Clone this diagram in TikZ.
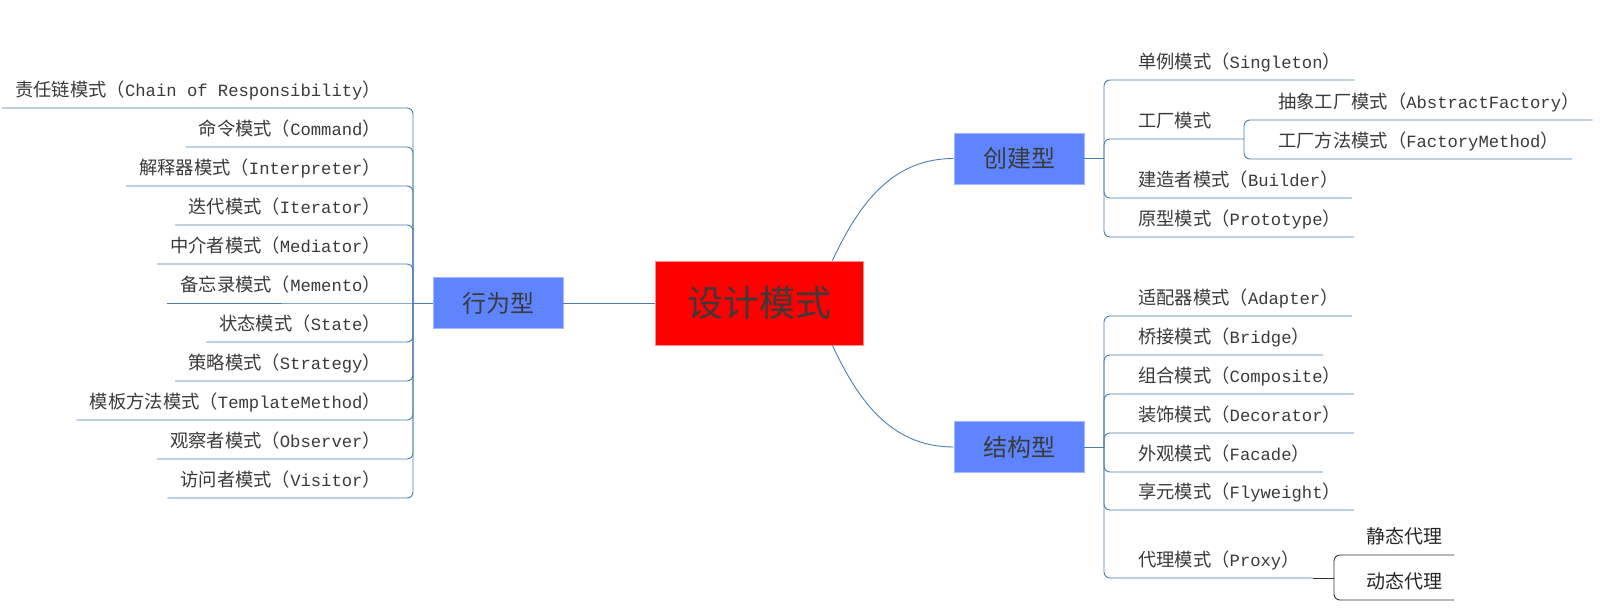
\documentclass[tikz,border=0pt]{standalone}
\usepackage{fontspec}
\setmainfont{Noto Sans CJK SC}
\setmonofont{Liberation Mono}
\usepackage{tikz}
\usetikzlibrary{calc}
\usepackage{xcolor}
\definecolor{linkblue}{HTML}{4A7EB0}
\definecolor{boxblue}{HTML}{5E85FF}
\definecolor{boxedge}{HTML}{A3B7FF}
\definecolor{rootred}{HTML}{FF0000}
\definecolor{rootedge}{HTML}{FF8A8A}
\definecolor{inkgray}{HTML}{3A3A3A}
\definecolor{darkline}{HTML}{333333}
% pattern label: chinese name + latin name in brackets
\newcommand{\pat}[2]{#1（{\fontsize{17.2}{20}\selectfont\ttfamily #2}）}

\begin{document}
\begin{tikzpicture}[x=1pt, y=-1pt,
  root/.style={fill=rootred, draw=rootedge, line width=0.8pt, minimum width=208pt, minimum height=84pt, text=inkgray, font=\fontsize{36}{40}\selectfont},
  branch/.style={fill=boxblue, draw=boxedge, line width=0.8pt, minimum width=130pt, minimum height=51pt, text=inkgray, font=\fontsize{24}{28}\selectfont},
  leaf/.style={inner ysep=0pt, inner xsep=13pt, minimum height=34pt, text height=14pt, text depth=2pt, text=inkgray, font=\fontsize{18.3}{22}\selectfont},
  lleaf/.style={leaf, anchor=south east},
  rleaf/.style={leaf, anchor=south west},
  subleaf/.style={leaf, inner xsep=12pt, anchor=south west, text=black!85, font=\fontsize{19}{22}\selectfont},
  link/.style={draw=linkblue, line width=0.9pt},
  fork/.style={link, rounded corners=6pt},
  darkfork/.style={draw=darkline, line width=0.9pt, rounded corners=6pt}]
  \useasboundingbox (0,0) rectangle (1605,609);

  % centre and the three branches
  \node[root] (rc) at (759,303) {设计模式};
  \node[branch] (bh) at (498,303) {行为型};
  \node[branch] (cj) at (1019,158.5) {创建型};
  \node[branch] (jg) at (1019,447) {结构型};

  \draw[link] (rc.west) -- (bh.east);
  \draw[link] (rc.30) to[out=65, in=180] (cj.west);
  \draw[link] (rc.-30) to[out=-65, in=180] (jg.west);

  % Behavioural patterns
  \coordinate (bhj) at (413,303);
  \draw[link] (bh.west) -- (bhj);
  \node[lleaf] (b1) at (394,108) {\pat{责任链模式}{Chain of Responsibility}};
  \node[lleaf] (b2) at (394,147) {\pat{命令模式}{Command}};
  \node[lleaf] (b3) at (394,186) {\pat{解释器模式}{Interpreter}};
  \node[lleaf] (b4) at (394,225) {\pat{迭代模式}{Iterator}};
  \node[lleaf] (b5) at (394,264) {\pat{中介者模式}{Mediator}};
  \node[lleaf] (b6) at (394,303) {\pat{备忘录模式}{Memento}};
  \node[lleaf] (b7) at (394,342) {\pat{状态模式}{State}};
  \node[lleaf] (b8) at (394,381) {\pat{策略模式}{Strategy}};
  \node[lleaf] (b9) at (394,420) {\pat{模板方法模式}{TemplateMethod}};
  \node[lleaf] (b10) at (394,459) {\pat{观察者模式}{Observer}};
  \node[lleaf] (b11) at (394,498) {\pat{访问者模式}{Visitor}};

  \draw[fork] (bhj) |- (b1.south east) -- (b1.south west);
  \draw[fork] (bhj) |- (b2.south east) -- (b2.south west);
  \draw[fork] (bhj) |- (b3.south east) -- (b3.south west);
  \draw[fork] (bhj) |- (b4.south east) -- (b4.south west);
  \draw[fork] (bhj) |- (b5.south east) -- (b5.south west);
  \draw[link] (bhj) -- (b6.south east) -- (b6.south west);
  \draw[fork] (bhj) |- (b7.south east) -- (b7.south west);
  \draw[fork] (bhj) |- (b8.south east) -- (b8.south west);
  \draw[fork] (bhj) |- (b9.south east) -- (b9.south west);
  \draw[fork] (bhj) |- (b10.south east) -- (b10.south west);
  \draw[fork] (bhj) |- (b11.south east) -- (b11.south west);

  % Creational patterns
  \coordinate (cjj) at (1104,158.5);
  \coordinate (fj) at (1244,139);
  \draw[link] (cj.east) -- (cjj);
  \node[rleaf] (c1) at (1125,80) {\pat{单例模式}{Singleton}};
  \node[rleaf] (c2) at (1125,139) {工厂模式};
  \node[rleaf] (c3) at (1125,198) {\pat{建造者模式}{Builder}};
  \node[rleaf] (c4) at (1125,237) {\pat{原型模式}{Prototype}};
  \node[rleaf] (f1) at (1265,120) {\pat{抽象工厂模式}{AbstractFactory}};
  \node[rleaf] (f2) at (1265,159) {\pat{工厂方法模式}{FactoryMethod}};

  \draw[fork] (cjj) |- (c1.south west) -- (c1.south east);
  \draw[fork] (cjj) |- (c2.south west) -- (fj);
  \draw[fork] (cjj) |- (c3.south west) -- (c3.south east);
  \draw[fork] (cjj) |- (c4.south west) -- (c4.south east);
  \draw[fork] (fj) |- (f1.south west) -- (f1.south east);
  \draw[fork] (fj) |- (f2.south west) -- (f2.south east);

  % Structural patterns
  \coordinate (jgj) at (1104,447);
  \coordinate (pj) at (1334,578);
  \draw[link] (jg.east) -- (jgj);
  \node[rleaf] (s1) at (1125,316) {\pat{适配器模式}{Adapter}};
  \node[rleaf] (s2) at (1125,355) {\pat{桥接模式}{Bridge}};
  \node[rleaf] (s3) at (1125,394) {\pat{组合模式}{Composite}};
  \node[rleaf] (s4) at (1125,433) {\pat{装饰模式}{Decorator}};
  \node[rleaf] (s5) at (1125,472) {\pat{外观模式}{Facade}};
  \node[rleaf] (s6) at (1125,510) {\pat{享元模式}{Flyweight}};
  \node[rleaf] (s7) at (1125,578) {\pat{代理模式}{Proxy}};
  \node[subleaf] (p1) at (1354,555) {静态代理};
  \node[subleaf] (p2) at (1354,600) {动态代理};

  \draw[fork] (jgj) |- (s1.south west) -- (s1.south east);
  \draw[fork] (jgj) |- (s2.south west) -- (s2.south east);
  \draw[fork] (jgj) |- (s3.south west) -- (s3.south east);
  \draw[fork] (jgj) |- (s4.south west) -- (s4.south east);
  \draw[fork] (jgj) |- (s5.south west) -- (s5.south east);
  \draw[fork] (jgj) |- (s6.south west) -- (s6.south east);
  \draw[fork] (jgj) |- (s7.south west) -- (s7.south east);
  \draw[darkfork] (s7.south east) -- (pj);
  \draw[darkfork] (pj) |- (p1.south west) -- (p1.south east);
  \draw[darkfork] (pj) |- (p2.south west) -- (p2.south east);
\end{tikzpicture}
\end{document}
